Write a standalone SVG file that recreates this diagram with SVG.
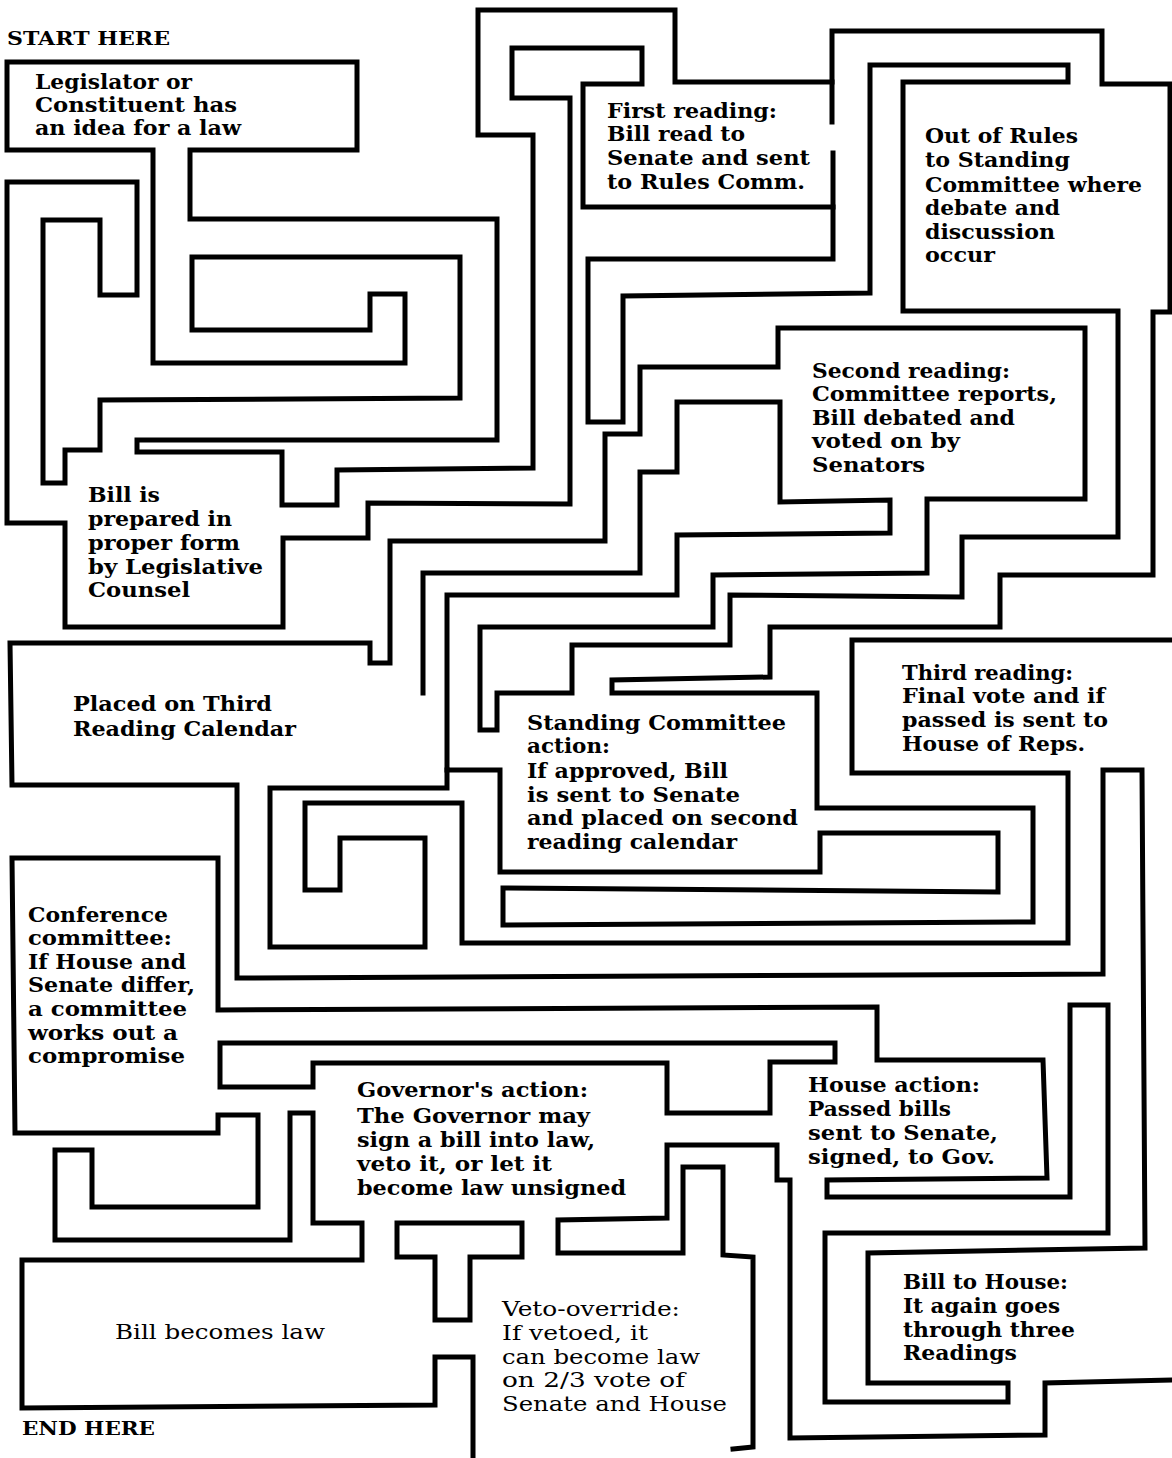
<svg xmlns="http://www.w3.org/2000/svg" width="1172" height="1458" viewBox="0 0 1172 1458">
<style>
.w{fill:none;stroke:#000;stroke-width:5;stroke-linejoin:miter;stroke-linecap:square}
.t{font-family:"DejaVu Serif","Liberation Serif",serif;font-weight:bold;font-size:20px;fill:#000}
.n{font-weight:normal}
.s{font-size:18px}
</style>
<rect width="1172" height="1458" fill="#fff"/>
<g id="connectors">
<polyline class="w" points="832,82 675,82 675,10 478,10 478,135 533,135 533,468 337,470 337,505 282,505 282,452 137,452 137,440 497,440 497,219 190,219 190,150 357,150 357,62 7,62 7,150 153,150 153,363 405,363 405,294 370,294 370,330 192,330 192,257 460,257 460,398 100,400 100,450 65,450 65,483 43,483 43,220 100,220 100,295 137,295 137,182 7,182 7,523 65,523 65,627 283,627 283,538 368,538 368,503 570,504 570,98 512,98 512,48 642,48 642,84 583,84 583,207 833,207"/>
<polyline class="w" points="832,122 832,31 1102,31 1102,84 1170,84 1170,312 1153,312 1153,575 1000,575 1000,627 770,627 770,677 612,680 612,693 817,693 817,808 1033,808 1033,922 503,925 503,888 998,892 998,833 820,833 820,872 500,872 500,770 447,770 447,595 677,595 677,535 890,533 890,500 780,502 780,402 677,402 677,472 640,472 640,573 423,573 423,693"/>
<polyline class="w" points="833,153 833,259 588,259 588,422 623,422 623,296 870,293 870,65 1068,65 1068,82 903,82 903,311 1118,311 1118,537 962,537 962,597 730,595 730,645 572,645 572,693 497,693 497,730 480,730 480,627 713,627 713,575 927,573 927,499 1085,499 1085,328 778,328 778,367 640,367 640,434 605,434 605,541 390,541 390,663 370,663 370,643 10,643 12,785 237,785 237,978 1103,974 1103,770 1142,770 1145,1248 868,1253 868,1383 1008,1383 1008,1402 825,1402 825,1233 1108,1233 1108,1005 1070,1005 1070,1197 827,1197 827,1180 1047,1178 1043,1060 877,1060 877,1007 218,1010 218,858 12,858 15,1133 218,1133 218,1115 258,1115 258,1207 92,1207 92,1150 55,1150 55,1240 290,1240 290,1113 313,1113 313,1223 362,1223 362,1260 22,1260 22,1408 435,1405 435,1357 473,1357 473,1458"/>
<polyline class="w" points="1172,640 852,640 852,773 1068,773 1068,943 462,943 462,803 305,803 305,890 340,890 340,838 425,838 425,947 270,947 270,788 447,788 447,770"/>
<polygon class="w" points="220,1043 835,1043 835,1062 770,1062 770,1113 667,1113 667,1063 313,1063 313,1087 220,1087"/>
<polyline class="w" points="1172,1380 1045,1383 1045,1435 790,1438 790,1180 777,1180 777,1145 667,1145 667,1218 558,1220 558,1253 683,1253 683,1167 723,1167 723,1255 753,1257 753,1447 733,1449"/>
<polygon class="w" points="397,1223 522,1223 522,1257 470,1257 470,1320 435,1320 435,1257 397,1257"/>
</g>
<g id="start"><text class="t s" x="7" y="45" textLength="163" lengthAdjust="spacingAndGlyphs">START HERE</text></g>
<g id="legislator">
<text class="t" x="35" y="89" textLength="157" lengthAdjust="spacingAndGlyphs">Legislator or</text>
<text class="t" x="35" y="112" textLength="202" lengthAdjust="spacingAndGlyphs">Constituent has</text>
<text class="t" x="35" y="135" textLength="206" lengthAdjust="spacingAndGlyphs">an idea for a law</text>
</g>
<g id="first-reading">
<text class="t" x="607" y="118" textLength="170" lengthAdjust="spacingAndGlyphs">First reading:</text>
<text class="t" x="607" y="141" textLength="138" lengthAdjust="spacingAndGlyphs">Bill read to</text>
<text class="t" x="607" y="165" textLength="203" lengthAdjust="spacingAndGlyphs">Senate and sent</text>
<text class="t" x="607" y="189" textLength="198" lengthAdjust="spacingAndGlyphs">to Rules Comm.</text>
</g>
<g id="out-of-rules">
<text class="t" x="925" y="143" textLength="153" lengthAdjust="spacingAndGlyphs">Out of Rules</text>
<text class="t" x="925" y="167" textLength="145" lengthAdjust="spacingAndGlyphs">to Standing</text>
<text class="t" x="925" y="192" textLength="217" lengthAdjust="spacingAndGlyphs">Committee where</text>
<text class="t" x="925" y="215" textLength="135" lengthAdjust="spacingAndGlyphs">debate and</text>
<text class="t" x="925" y="239" textLength="130" lengthAdjust="spacingAndGlyphs">discussion</text>
<text class="t" x="925" y="262" textLength="70" lengthAdjust="spacingAndGlyphs">occur</text>
</g>
<g id="second-reading">
<text class="t" x="812" y="378" textLength="198" lengthAdjust="spacingAndGlyphs">Second reading:</text>
<text class="t" x="812" y="401" textLength="245" lengthAdjust="spacingAndGlyphs">Committee reports,</text>
<text class="t" x="812" y="425" textLength="203" lengthAdjust="spacingAndGlyphs">Bill debated and</text>
<text class="t" x="812" y="448" textLength="148" lengthAdjust="spacingAndGlyphs">voted on by</text>
<text class="t" x="812" y="472" textLength="113" lengthAdjust="spacingAndGlyphs">Senators</text>
</g>
<g id="bill-prepared">
<text class="t" x="88" y="502" textLength="72" lengthAdjust="spacingAndGlyphs">Bill is</text>
<text class="t" x="88" y="526" textLength="144" lengthAdjust="spacingAndGlyphs">prepared in</text>
<text class="t" x="88" y="550" textLength="152" lengthAdjust="spacingAndGlyphs">proper form</text>
<text class="t" x="88" y="574" textLength="175" lengthAdjust="spacingAndGlyphs">by Legislative</text>
<text class="t" x="88" y="597" textLength="102" lengthAdjust="spacingAndGlyphs">Counsel</text>
</g>
<g id="placed-third">
<text class="t" x="73" y="711" textLength="199" lengthAdjust="spacingAndGlyphs">Placed on Third</text>
<text class="t" x="73" y="736" textLength="223" lengthAdjust="spacingAndGlyphs">Reading Calendar</text>
</g>
<g id="third-reading">
<text class="t" x="902" y="680" textLength="171" lengthAdjust="spacingAndGlyphs">Third reading:</text>
<text class="t" x="902" y="703" textLength="203" lengthAdjust="spacingAndGlyphs">Final vote and if</text>
<text class="t" x="902" y="727" textLength="206" lengthAdjust="spacingAndGlyphs">passed is sent to</text>
<text class="t" x="902" y="751" textLength="183" lengthAdjust="spacingAndGlyphs">House of Reps.</text>
</g>
<g id="standing-committee">
<text class="t" x="527" y="730" textLength="259" lengthAdjust="spacingAndGlyphs">Standing Committee</text>
<text class="t" x="527" y="753" textLength="83" lengthAdjust="spacingAndGlyphs">action:</text>
<text class="t" x="527" y="778" textLength="201" lengthAdjust="spacingAndGlyphs">If approved, Bill</text>
<text class="t" x="527" y="802" textLength="213" lengthAdjust="spacingAndGlyphs">is sent to Senate</text>
<text class="t" x="527" y="825" textLength="271" lengthAdjust="spacingAndGlyphs">and placed on second</text>
<text class="t" x="527" y="849" textLength="210" lengthAdjust="spacingAndGlyphs">reading calendar</text>
</g>
<g id="conference">
<text class="t" x="28" y="922" textLength="140" lengthAdjust="spacingAndGlyphs">Conference</text>
<text class="t" x="28" y="945" textLength="144" lengthAdjust="spacingAndGlyphs">committee:</text>
<text class="t" x="28" y="969" textLength="158" lengthAdjust="spacingAndGlyphs">If House and</text>
<text class="t" x="28" y="992" textLength="167" lengthAdjust="spacingAndGlyphs">Senate differ,</text>
<text class="t" x="28" y="1016" textLength="159" lengthAdjust="spacingAndGlyphs">a committee</text>
<text class="t" x="28" y="1040" textLength="150" lengthAdjust="spacingAndGlyphs">works out a</text>
<text class="t" x="28" y="1063" textLength="157" lengthAdjust="spacingAndGlyphs">compromise</text>
</g>
<g id="governor">
<text class="t" x="357" y="1097" textLength="231" lengthAdjust="spacingAndGlyphs">Governor's action:</text>
<text class="t" x="357" y="1123" textLength="233" lengthAdjust="spacingAndGlyphs">The Governor may</text>
<text class="t" x="357" y="1147" textLength="238" lengthAdjust="spacingAndGlyphs">sign a bill into law,</text>
<text class="t" x="357" y="1171" textLength="195" lengthAdjust="spacingAndGlyphs">veto it, or let it</text>
<text class="t" x="357" y="1195" textLength="269" lengthAdjust="spacingAndGlyphs">become law unsigned</text>
</g>
<g id="house-action">
<text class="t" x="808" y="1092" textLength="172" lengthAdjust="spacingAndGlyphs">House action:</text>
<text class="t" x="808" y="1116" textLength="143" lengthAdjust="spacingAndGlyphs">Passed bills</text>
<text class="t" x="808" y="1140" textLength="190" lengthAdjust="spacingAndGlyphs">sent to Senate,</text>
<text class="t" x="808" y="1164" textLength="187" lengthAdjust="spacingAndGlyphs">signed, to Gov.</text>
</g>
<g id="bill-law"><text class="t n" x="115" y="1339" textLength="210" lengthAdjust="spacingAndGlyphs">Bill becomes law</text></g>
<g id="veto">
<text class="t n" x="502" y="1316" textLength="178" lengthAdjust="spacingAndGlyphs">Veto-override:</text>
<text class="t n" x="502" y="1340" textLength="146" lengthAdjust="spacingAndGlyphs">If vetoed, it</text>
<text class="t n" x="502" y="1364" textLength="198" lengthAdjust="spacingAndGlyphs">can become law</text>
<text class="t n" x="502" y="1387" textLength="183" lengthAdjust="spacingAndGlyphs">on 2/3 vote of</text>
<text class="t n" x="502" y="1411" textLength="225" lengthAdjust="spacingAndGlyphs">Senate and House</text>
</g>
<g id="bill-house">
<text class="t" x="903" y="1289" textLength="165" lengthAdjust="spacingAndGlyphs">Bill to House:</text>
<text class="t" x="903" y="1313" textLength="157" lengthAdjust="spacingAndGlyphs">It again goes</text>
<text class="t" x="903" y="1337" textLength="172" lengthAdjust="spacingAndGlyphs">through three</text>
<text class="t" x="903" y="1360" textLength="114" lengthAdjust="spacingAndGlyphs">Readings</text>
</g>
<g id="end"><text class="t s" x="22" y="1435" textLength="133" lengthAdjust="spacingAndGlyphs">END HERE</text></g>
</svg>
